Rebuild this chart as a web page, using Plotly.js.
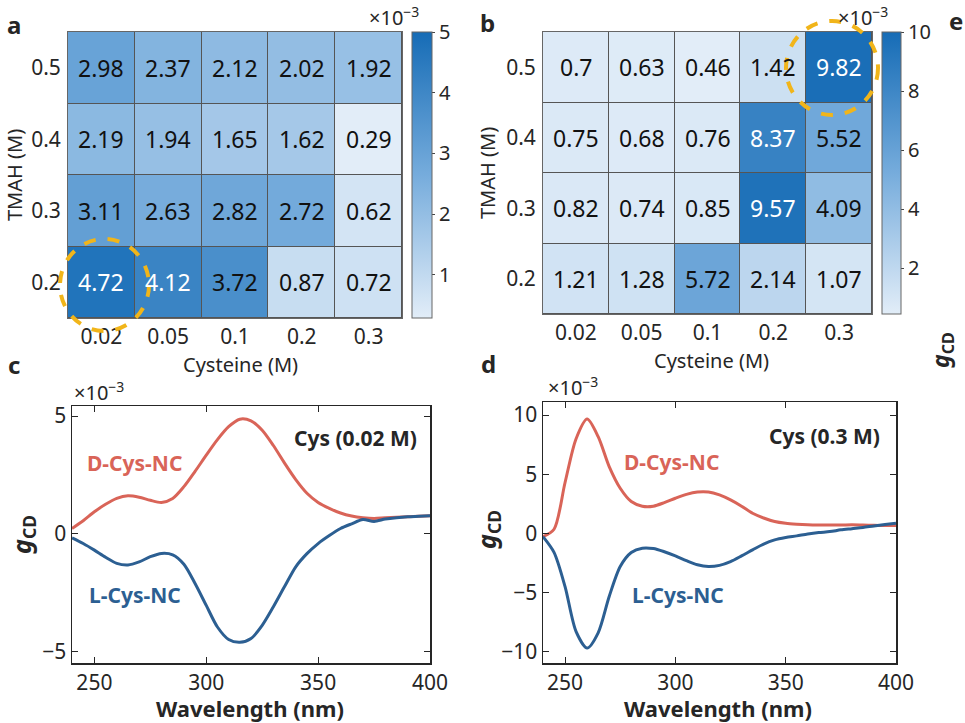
<!DOCTYPE html>
<html><head><meta charset="utf-8">
<script src="https://cdn.plot.ly/plotly-3.0.1.min.js"></script>
<style>body{margin:0;background:#fff}#chart{width:965px;height:723px}</style>
</head><body><div id="chart"></div>
<script>
// ---------- data ----------
const cysteine = ['0.02','0.05','0.1','0.2','0.3'];
const tmah = ['0.2','0.3','0.4','0.5'];
// rows follow tmah (0.2 bottom -> 0.5 top), values in units of 1e-3
const gA = [
  [4.72, 4.12, 3.72, 0.87, 0.72],
  [3.11, 2.63, 2.82, 2.72, 0.62],
  [2.19, 1.94, 1.65, 1.62, 0.29],
  [2.98, 2.37, 2.12, 2.02, 1.92]
];
const gB = [
  [1.21, 1.28, 5.72, 2.14, 1.07],
  [0.82, 0.74, 0.85, 9.57, 4.09],
  [0.75, 0.68, 0.76, 8.37, 5.52],
  [0.70, 0.63, 0.46, 1.42, 9.82]
];
const wavelength = [240,245,250,255,260,265,270,275,280,285,290,295,300,305,310,315,320,325,330,335,340,345,350,355,360,365,370,375,380,385,390,395,400];
const dCys002 = [0.22,0.55,0.93,1.25,1.50,1.61,1.55,1.42,1.33,1.50,2.00,2.65,3.34,4.00,4.55,4.87,4.80,4.40,3.75,3.00,2.30,1.72,1.33,1.08,0.88,0.75,0.68,0.65,0.68,0.70,0.72,0.74,0.76];
const lCys002 = [-0.18,-0.42,-0.70,-1.00,-1.26,-1.33,-1.20,-0.98,-0.84,-0.90,-1.30,-2.12,-3.05,-3.97,-4.50,-4.62,-4.46,-3.90,-3.11,-2.25,-1.41,-0.85,-0.42,-0.08,0.22,0.42,0.60,0.52,0.62,0.68,0.72,0.74,0.76];
const dCys03 = [-0.27,0.35,4.30,8.00,9.66,8.17,5.64,3.81,2.69,2.30,2.30,2.60,2.97,3.30,3.50,3.50,3.25,2.83,2.30,1.70,1.30,1.00,0.85,0.77,0.72,0.70,0.70,0.70,0.72,0.70,0.68,0.67,0.66];
const lCys03 = [-0.27,-1.60,-4.50,-8.30,-9.69,-8.40,-5.33,-2.80,-1.62,-1.25,-1.28,-1.55,-1.90,-2.30,-2.65,-2.80,-2.70,-2.38,-1.90,-1.39,-0.90,-0.55,-0.35,-0.21,-0.05,0.07,0.15,0.30,0.40,0.50,0.63,0.75,0.86];

// ---------- helpers ----------
const W = 965, H = 723;
const px = x => x / W, py = y => 1 - y / H;
const FONT = 'Noto Sans, Open Sans, sans-serif';
const INK = '#262626';
const RED = 'rgb(217,100,88)', BLUE = 'rgb(44,95,146)', GOLD = 'rgb(241,181,26)';
const scale = [[0,'rgb(226,237,248)'],[0.5,'rgb(118,172,220)'],[1,'rgb(22,108,182)']];

function heat(z, xa, ya, zmin, zmax, cbx, cbthick, cblen, tickvals) {
  return {
    type: 'heatmap', x: cysteine, y: tmah, z: z, xaxis: xa, yaxis: ya,
    zmin: zmin, zmax: zmax, colorscale: scale, xgap: 1, ygap: 1, hoverinfo: 'skip',
    colorbar: {x: px(cbx), xanchor: 'left', xpad: 0, ypad: 0, y: py(32), yanchor: 'top',
      thickness: cbthick, thicknessmode: 'pixels', len: cblen, lenmode: 'pixels',
      outlinewidth: 1, outlinecolor: '#666', tickvals: tickvals, ticks: 'outside', ticklen: 3,
      tickcolor: '#444', tickfont: {family: FONT, size: 20, color: INK}}
  };
}
// cell labels placed by category index on the heatmap axes
function cellText(z, xref, yref, zmin, zmax) {
  const out = [];
  z.forEach((row, i) => row.forEach((v, j) => {
    const f = (v - zmin) / (zmax - zmin);
    out.push({x: j, y: i, xref: xref, yref: yref, text: String(v), showarrow: false,
      xanchor: 'center', yanchor: 'middle',
      font: {family: FONT, size: 23, color: f > 0.78 ? '#ffffff' : '#111'}});
  }));
  return out;
}
function line(y, name, color, xa, ya) {
  return {type: 'scatter', mode: 'lines', x: wavelength, y: y, name: name, xaxis: xa, yaxis: ya,
    line: {color: color, width: 3, shape: 'spline', smoothing: 0.8}, hoverinfo: 'skip'};
}

const traces = [
  heat(gA, 'x', 'y', 0.29, 5, 412, 20, 286, [1,2,3,4,5]),
  heat(gB, 'x2', 'y2', 0.46, 10, 882, 19, 282, [2,4,6,8,10]),
  line(dCys002, 'D-Cys-NC', RED, 'x3', 'y3'),
  line(lCys002, 'L-Cys-NC', BLUE, 'x3', 'y3'),
  line(dCys03, 'D-Cys-NC', RED, 'x4', 'y4'),
  line(lCys03, 'L-Cys-NC', BLUE, 'x4', 'y4')
];

const heatX = (d, anchor) => ({domain: d, anchor: anchor, type: 'category', showgrid: false, zeroline: false, showline: true, mirror: true,
  linecolor: '#666', linewidth: 1, ticks: '', ticklabelstandoff: 0, tickfont: {family: FONT, size: 21, color: INK}, fixedrange: true});
const heatY = (d, anchor) => ({domain: d, anchor: anchor, type: 'category', showgrid: false, zeroline: false, showline: true, mirror: true,
  linecolor: '#666', linewidth: 1, ticks: '', ticklabelstandoff: 2, tickfont: {family: FONT, size: 21, color: INK}, fixedrange: true});
const lineAx = (d, anchor, range, tickvals) => ({domain: d, anchor: anchor, range: range, tickvals: tickvals, showgrid: false, zeroline: false,
  showline: true, mirror: 'ticks', linecolor: INK, linewidth: 1.5, ticks: 'inside', ticklen: 6, tickcolor: INK,
  tickfont: {family: FONT, size: 21, color: INK}, fixedrange: true});

const layout = {
  width: W, height: H, margin: {l: 0, r: 0, t: 0, b: 0}, showlegend: false,
  paper_bgcolor: '#fff', plot_bgcolor: '#fff', font: {family: FONT, color: INK},
  xaxis: heatX([px(68), px(402)], 'y'), yaxis: heatY([py(318), py(32)], 'x'),
  xaxis2: heatX([px(543), px(872)], 'y2'), yaxis2: heatY([py(314), py(32)], 'x2'),
  xaxis3: lineAx([px(72), px(430)], 'y3', [240, 400], [250,300,350,400]),
  yaxis3: lineAx([py(663), py(406)], 'x3', [-5.5, 5.43], [-5,0,5]),
  xaxis4: lineAx([px(543), px(896)], 'y4', [240, 400], [250,300,350,400]),
  yaxis4: lineAx([py(663), py(402)], 'x4', [-10.95, 11.1], [-10,-5,0,5,10]),
  shapes: [
    {type: 'rect', xref: 'x domain', yref: 'y domain', x0: 0, x1: 1, y0: 0, y1: 1, layer: 'below', fillcolor: '#555', line: {width: 0}},
    {type: 'rect', xref: 'x2 domain', yref: 'y2 domain', x0: 0, x1: 1, y0: 0, y1: 1, layer: 'below', fillcolor: '#555', line: {width: 0}},
    {type: 'circle', xref: 'paper', yref: 'paper', x0: px(60), x1: px(149), y0: py(331), y1: py(239), line: {color: GOLD, width: 4, dash: 'dash'}},
    {type: 'circle', xref: 'paper', yref: 'paper', x0: px(786), x1: px(878), y0: py(115), y1: py(21), line: {color: GOLD, width: 4, dash: 'dash'}}
  ],
  annotations: [].concat(cellText(gA, 'x', 'y', 0.29, 5), cellText(gB, 'x2', 'y2', 0.46, 10), [
    // panel letters
    {text: '<b>a</b>', x: px(14), y: py(25), font: {size: 24}},
    {text: '<b>b</b>', x: px(487), y: py(22), font: {size: 24}},
    {text: '<b>c</b>', x: px(14), y: py(364), font: {size: 24}},
    {text: '<b>d</b>', x: px(488), y: py(363), font: {size: 24}},
    {text: '<b>e</b>', x: px(965), y: py(20), xanchor: 'right', font: {size: 24}},
    // multipliers
    {text: '×10<sup>−3</sup>', x: px(367), y: py(16), xanchor: 'left', font: {size: 20}},
    {text: '×10<sup>−3</sup>', x: px(836), y: py(16), xanchor: 'left', font: {size: 20}},
    {text: '×10<sup>−3</sup>', x: px(72), y: py(391), xanchor: 'left', font: {size: 20}},
    {text: '×10<sup>−3</sup>', x: px(546), y: py(386), xanchor: 'left', font: {size: 20}},
    // heatmap axis titles
    {text: 'TMAH (M)', x: px(14), y: py(175), textangle: -90, font: {size: 20}},
    {text: 'TMAH (M)', x: px(487), y: py(173), textangle: -90, font: {size: 20}},
    {text: 'Cysteine (M)', x: px(240), y: py(364), font: {size: 20}},
    {text: 'Cysteine (M)', x: px(711), y: py(360), font: {size: 20}},
    {text: '<b><i>g</i></b><sub><b>CD</b></sub>', x: px(941), y: py(350), textangle: -90, font: {size: 23}},
    // line plot axis titles
    {text: '<b><i>g</i></b><sub><b>CD</b></sub>', x: px(22), y: py(535), textangle: -90, font: {size: 25}},
    {text: '<b><i>g</i></b><sub><b>CD</b></sub>', x: px(487), y: py(530), textangle: -90, font: {size: 25}},
    {text: '<b>Wavelength (nm)</b>', x: px(250), y: py(708), font: {size: 22}},
    {text: '<b>Wavelength (nm)</b>', x: px(718), y: py(708), font: {size: 22}},
    // in-plot labels
    {text: '<b>Cys (0.02 M)</b>', x: px(355), y: py(438), font: {size: 21}},
    {text: '<b>D-Cys-NC</b>', x: px(134), y: py(463), font: {size: 21, color: RED}},
    {text: '<b>L-Cys-NC</b>', x: px(135), y: py(595), font: {size: 21, color: BLUE}},
    {text: '<b>Cys (0.3 M)</b>', x: px(824), y: py(436), font: {size: 21}},
    {text: '<b>D-Cys-NC</b>', x: px(671), y: py(462), font: {size: 21, color: RED}},
    {text: '<b>L-Cys-NC</b>', x: px(678), y: py(595), font: {size: 21, color: BLUE}}
  ].map(a => Object.assign({xref: 'paper', yref: 'paper', showarrow: false, xanchor: 'center', yanchor: 'middle'}, a,
      {font: Object.assign({family: FONT, color: INK}, a.font)})))
};

Plotly.newPlot('chart', traces, layout, {staticPlot: true, displayModeBar: false});
</script></body></html>
